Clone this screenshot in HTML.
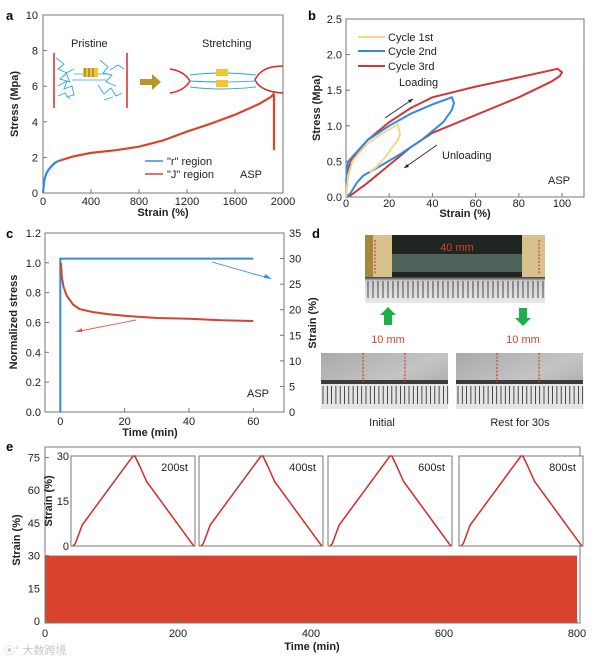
<!DOCTYPE html>
<html><head><meta charset="utf-8">
<style>
html,body{margin:0;padding:0;background:#fff;}
svg{display:block;font-family:"Liberation Sans",Arial,sans-serif;}
.t{font-size:11px;fill:#222;}
.b{font-weight:bold;}
</style></head>
<body>
<svg id="fig" width="600" height="659" viewBox="0 0 600 659" xmlns="http://www.w3.org/2000/svg">
<defs>
<linearGradient id="gray" x1="0" y1="0" x2="1" y2="1"><stop offset="0" stop-color="#a9a9a9"/><stop offset="0.5" stop-color="#c4c4c4"/><stop offset="1" stop-color="#9e9e9e"/></linearGradient>
<linearGradient id="ruler" x1="0" y1="0" x2="0" y2="1"><stop offset="0" stop-color="#3a3a3a"/><stop offset="0.15" stop-color="#cfcfcf"/><stop offset="1" stop-color="#e8e8e8"/></linearGradient>
</defs>
<text x="6" y="20" class="b" font-size="13">a</text>
<text x="308" y="20" class="b" font-size="13">b</text>
<text x="6" y="238" class="b" font-size="13">c</text>
<text x="312" y="238" class="b" font-size="13">d</text>
<text x="6" y="451" class="b" font-size="13">e</text>

<g id="pa"></g>
<g id="pb"></g>
<g id="pc"></g>
<g id="pe"></g>

<g>
<text x="71" y="47" class="t">Pristine</text>
<line x1="54" y1="53" x2="54" y2="108" stroke="#d62b2b" stroke-width="1.5"/>
<line x1="127" y1="53" x2="127" y2="108" stroke="#d62b2b" stroke-width="1.5"/>
<path d="M56 58 l8 6 -6 5 9 4 -7 6 10 3 -4 -9 8 -4 M58 86 l9 -5 -3 8 8 -3 2 9 -8 2 M58 96 l7 -3 5 6 M100 60 l8 7 -5 6 9 2 -6 7 10 4 M98 85 l6 9 7 -6 5 8 6 -3 M104 100 l9 -3 M110 70 l8 -5 6 4" fill="none" stroke="#2fa4e7" stroke-width="0.9"/>
<path d="M74 74 h34 M72 80 h36" stroke="#2fa4e7" stroke-width="0.8"/>
<rect x="83" y="68" width="15" height="9" fill="#f2c631"/>
<path d="M85 68 v9 M89 68 v9 M93 68 v9" stroke="#444" stroke-width="0.7"/>
</g>
<path d="M140 79 h12 v-5 l9 8 -9 8 v-5 h-12z" fill="#b8972a"/>
<g>
<text x="202" y="47" class="t">Stretching</text>
<path d="M170 69 q14 2 20 12 q-6 10 -20 12" fill="none" stroke="#d62b2b" stroke-width="1.5"/>
<path d="M283 66 q-22 0 -28 14 q6 12 28 13" fill="none" stroke="#d62b2b" stroke-width="1.5"/>
<path d="M190 75 q30 -4 66 0 M190 81 q30 2 66 0 M190 87 q30 4 66 0" fill="none" stroke="#2fa4e7" stroke-width="0.9"/>
<rect x="216" y="69" width="12" height="7" fill="#f2c631"/>
<rect x="216" y="80" width="12" height="7" fill="#f2c631"/>
</g>

<g>
<g>
<rect x="365" y="235" width="180" height="68" fill="#d8c18d"/>
<rect x="365" y="235" width="8" height="68" fill="#a6873f"/>
<rect x="392" y="235" width="130" height="42" fill="#1f2520"/>
<rect x="392" y="254" width="130" height="18" fill="#4d6258"/>
<rect x="365" y="277" width="180" height="26" fill="url(#ruler)"/>
<g id="topTicks" stroke="#222" stroke-width="0.8"></g>
<line x1="375" y1="240" x2="375" y2="275" stroke="#d6402a" stroke-dasharray="2,1.5" stroke-width="1.2"/>
<line x1="539" y1="240" x2="539" y2="275" stroke="#d6402a" stroke-dasharray="2,1.5" stroke-width="1.2"/>
<text x="457" y="251" text-anchor="middle" font-size="11" fill="#d6402a">40 mm</text>
</g>
<path d="M384 325 v-10 h-4 l8 -8 8 8 h-4 v10z" fill="#1bb04a"/>
<path d="M519 308 v10 h-4 l8 8 8 -8 h-4 v-10z" fill="#1bb04a"/>
<text x="388" y="343" text-anchor="middle" font-size="11" fill="#d6402a">10 mm</text>
<text x="523" y="343" text-anchor="middle" font-size="11" fill="#d6402a">10 mm</text>
<g>
<rect x="321" y="353" width="127" height="56" fill="url(#gray)"/>
<rect x="321" y="380" width="127" height="4" fill="#3b3b3b"/>
<rect x="321" y="384" width="127" height="25" fill="#e4e4e4"/>
<g id="ticksL" stroke="#222" stroke-width="0.8"></g>
<line x1="363" y1="353" x2="363" y2="382" stroke="#d6402a" stroke-dasharray="2,1.5" stroke-width="1.2"/>
<line x1="405" y1="353" x2="405" y2="382" stroke="#d6402a" stroke-dasharray="2,1.5" stroke-width="1.2"/>
</g>
<g>
<rect x="456" y="353" width="127" height="56" fill="url(#gray)"/>
<rect x="456" y="380" width="127" height="4" fill="#3b3b3b"/>
<rect x="456" y="384" width="127" height="25" fill="#e4e4e4"/>
<g id="ticksR" stroke="#222" stroke-width="0.8"></g>
<line x1="497" y1="353" x2="497" y2="382" stroke="#d6402a" stroke-dasharray="2,1.5" stroke-width="1.2"/>
<line x1="539" y1="353" x2="539" y2="382" stroke="#d6402a" stroke-dasharray="2,1.5" stroke-width="1.2"/>
</g>
<text x="382" y="426" text-anchor="middle" class="t">Initial</text>
<text x="520" y="426" text-anchor="middle" class="t">Rest for 30s</text>
</g>

<text x="4" y="654" font-size="11" fill="#c8c8c8" font-family="'Liberation Sans','Noto Sans CJK SC',sans-serif">⦿° 大数跨境</text>
</svg>
<script>
// panel a
const aRX=[0,10,25,45,70,100,130];
const aRY=[0,0.7,1.05,1.3,1.5,1.7,1.8];
const aJX=[130,250,400,600,800,1000,1200,1400,1600,1800,1900,1920,1925,1925];
const aJY=[1.8,2.05,2.25,2.4,2.6,2.95,3.45,3.9,4.4,5.0,5.4,5.55,5.5,2.4];
const aXTicks=[0,400,800,1200,1600,2000];
const aYTicks=[0,2,4,6,8,10];
// panel b
const b1X=[0,1,3,6,10,15,20,24,25,24,22,18,14,11];
const b1Y=[0,0.3,0.5,0.62,0.75,0.86,0.95,1.02,0.88,0.8,0.72,0.55,0.42,0.35];
const b2X=[0,0.5,1,4,10,20,30,40,49,50,49,45,35,25,15,8,5,2,0];
const b2Y=[0.2,0.4,0.5,0.6,0.8,1.0,1.17,1.3,1.4,1.32,1.22,1.05,0.8,0.6,0.42,0.3,0.2,0.05,0];
const b3X=[0,0.5,1,3,5,10,20,30,40,60,80,98,100,99,95,80,60,40,30,20,10,2,0];
const b3Y=[0,0.3,0.4,0.55,0.62,0.8,1.05,1.25,1.4,1.55,1.68,1.8,1.75,1.7,1.62,1.4,1.15,0.9,0.7,0.45,0.2,0.02,0];
const bXTicks=[0,20,40,60,80,100];
const bYTicks=[0,0.5,1.0,1.5,2.0,2.5];
// panel c
const cStressT=[0.2,0.5,1,2,4,6,10,15,20,30,40,50,60];
const cStressV=[1.0,0.9,0.84,0.78,0.72,0.69,0.67,0.655,0.645,0.63,0.625,0.615,0.61];
const cStrainT=[0,0,60];
const cStrainV=[0,30,30];
const cXTicks=[0,20,40,60];
const cYTicks=[0,0.2,0.4,0.6,0.8,1.0,1.2];
const cY2Ticks=[0,5,10,15,20,25,30,35];
// panel e
const eTimeRange=[0,800];
const eStrainRange=[0,30];
const eXTicks=[0,200,400,600,800];
const eYTicks=[0,15,30,45,60,75];
const insetLabels=["200st","400st","600st","800st"];
const insetT=[0.016,0.035,0.05,0.09,0.5,0.515,0.55,0.61,0.965,0.99];
const insetS=[0,0.8,2.5,7,30,30,27,21.5,1.4,0];
const insetYTicks=[0,15,30];

const NS="http://www.w3.org/2000/svg";
function mk(tag,parent,attrs){const e=document.createElementNS(NS,tag);for(const k in attrs)e.setAttribute(k,attrs[k]);parent.appendChild(e);return e;}
function txt(parent,x,y,s,anchor,cls){const e=mk('text',parent,{x:x,y:y,'text-anchor':anchor||'middle',class:cls||'t'});e.textContent=s;return e;}
function poly(xs,ys,fx,fy){return xs.map((v,i)=>fx(v).toFixed(1)+','+fy(ys[i]).toFixed(1)).join(' ');}
function fmt1(v){return v.toFixed(1);}

(function(){
const g=document.getElementById('pa');
const ax=v=>43+v*0.12, ay=v=>193-v*17.8;
let el=mk('rect',g,{x:43,y:15,width:240,height:178,fill:'none',stroke:'#777','stroke-width':1});


aXTicks.forEach(v=>{mk('line',g,{x1:ax(v),y1:193,x2:ax(v),y2:189,stroke:'#777'});
 el=txt(g,ax(v),205,String(v));
 
 });
aYTicks.forEach(v=>{mk('line',g,{x1:43,y1:ay(v),x2:47,y2:ay(v),stroke:'#777'});
 el=txt(g,38,ay(v)+4,String(v),'end');
 
 });
el=txt(g,163,216,'Strain (%)','middle','t b');


el=mk('text',g,{transform:'translate(18,104) rotate(-90)','text-anchor':'middle',class:'t b'});el.textContent='Stress (Mpa)';


el=mk('polyline',g,{points:poly(aJX,aJY,ax,ay),fill:'none',stroke:'#d8452f','stroke-width':2.2});


el=mk('polyline',g,{points:poly(aRX,aRY,ax,ay),fill:'none',stroke:'#2f8de0','stroke-width':2.2});


mk('line',g,{x1:145,y1:161,x2:163,y2:161,stroke:'#2f8de0','stroke-width':1.5});
el=txt(g,167,165,'"r" region','start');


mk('line',g,{x1:145,y1:174,x2:163,y2:174,stroke:'#d8452f','stroke-width':1.5});
el=txt(g,167,178,'"J" region','start');


el=txt(g,240,178,'ASP','start');


})();

(function(){
const g=document.getElementById('pb');
const bx=v=>346+v*2.16, by=v=>197-v*71.2;
let el=mk('rect',g,{x:346,y:19,width:238,height:178,fill:'none',stroke:'#777','stroke-width':1});


bXTicks.forEach(v=>{mk('line',g,{x1:bx(v),y1:197,x2:bx(v),y2:193,stroke:'#777'});
 el=txt(g,bx(v),207,String(v));
 
 });
bYTicks.forEach(v=>{mk('line',g,{x1:346,y1:by(v),x2:350,y2:by(v),stroke:'#777'});
 el=txt(g,342,by(v)+4,fmt1(v),'end');
 
 });
el=txt(g,465,217,'Strain (%)','middle','t b');


el=mk('text',g,{transform:'translate(320,108) rotate(-90)','text-anchor':'middle',class:'t b'});el.textContent='Stress (Mpa)';


el=mk('polyline',g,{points:poly(b3X,b3Y,bx,by),fill:'none',stroke:'#d0383a','stroke-width':2});


el=mk('polyline',g,{points:poly(b2X,b2Y,bx,by),fill:'none',stroke:'#2f8de0','stroke-width':2});


el=mk('polyline',g,{points:poly(b1X,b1Y,bx,by),fill:'none',stroke:'#f7d58e','stroke-width':2});


[['#f7d58e','Cycle 1st',37],['#2f8de0','Cycle 2nd',51],['#d0383a','Cycle 3rd',66]].forEach((L,i)=>{
 mk('line',g,{x1:358,y1:L[2],x2:385,y2:L[2],stroke:L[0],'stroke-width':2});
 el=txt(g,388,L[2]+4,L[1],'start');
 
 });
el=txt(g,399,86,'Loading','start');


el=txt(g,442,159,'Unloading','start');


mk('line',g,{x1:385,y1:118,x2:413,y2:99,stroke:'#222','stroke-width':0.8});
mk('path',g,{d:'M413 99 l-5 1 2 3z',fill:'#222'});
mk('line',g,{x1:437,y1:145,x2:404,y2:168,stroke:'#222','stroke-width':0.8});
mk('path',g,{d:'M404 168 l5 -1 -2 -3z',fill:'#222'});
el=txt(g,548,184,'ASP','start');


})();

(function(){
const g=document.getElementById('pc');
const cx=t=>60.3+t*3.217, cy=v=>412-v*149.2, cy2=s=>412-s*5.114;
let el=mk('rect',g,{x:45,y:233,width:239,height:179,fill:'none',stroke:'#777','stroke-width':1});


cXTicks.forEach(v=>{mk('line',g,{x1:cx(v),y1:412,x2:cx(v),y2:408,stroke:'#777'});
 el=txt(g,cx(v),425,String(v));
 
 });
cYTicks.forEach(v=>{mk('line',g,{x1:45,y1:cy(v),x2:49,y2:cy(v),stroke:'#777'});
 el=txt(g,41,cy(v)+4,fmt1(v),'end');
 
 });
cY2Ticks.forEach(v=>{mk('line',g,{x1:284,y1:cy2(v),x2:280,y2:cy2(v),stroke:'#777'});
 el=txt(g,289,cy2(v)+4,String(v),'start');
 
 });
el=txt(g,150,436,'Time (min)','middle','t b');


el=mk('text',g,{transform:'translate(17,322) rotate(-90)','text-anchor':'middle',class:'t b'});el.textContent='Normalized stress';


el=mk('text',g,{transform:'translate(316,323) rotate(-90)','text-anchor':'middle',class:'t b'});el.textContent='Strain (%)';


el=mk('polyline',g,{points:poly(cStrainT,cStrainV,cx,cy2),fill:'none',stroke:'#2f8de0','stroke-width':2});


el=mk('polyline',g,{points:poly(cStressT,cStressV,cx,cy),fill:'none',stroke:'#d0452f','stroke-width':2});


mk('line',g,{x1:212,y1:262,x2:268,y2:278,stroke:'#2f8de0','stroke-width':0.9});
mk('path',g,{d:'M272 279 l-7 -5 -1 4z',fill:'#2f8de0'});
mk('line',g,{x1:136,y1:320,x2:80,y2:331,stroke:'#e0604a','stroke-width':0.9});
mk('path',g,{d:'M75 332 l7 -4 0 4z',fill:'#e0604a'});
el=txt(g,247,397,'ASP','start');


})();

(function(){
[['topTicks',368,545,281,298,5],['ticksL',323,448,386,404,4.3],['ticksR',458,583,386,404,4.3]].forEach(R=>{
 const g=document.getElementById(R[0]);
 for(let x=R[1];x<R[2];x+=R[5]) mk('line',g,{x1:x,y1:R[3],x2:x,y2:R[4]});
});
})();

(function(){
const g=document.getElementById('pe');
const ex=t=>45+t*0.665, ey=v=>621-v*2.18;
let el=mk('rect',g,{x:ex(eTimeRange[0]),y:ey(eStrainRange[1]),width:ex(eTimeRange[1])-ex(eTimeRange[0]),height:ey(eStrainRange[0])-ey(eStrainRange[1])+2,fill:'#d9432b'});


el=mk('rect',g,{x:45,y:447,width:535,height:176,fill:'none',stroke:'#777','stroke-width':1});


eXTicks.forEach(v=>{mk('line',g,{x1:ex(v),y1:623,x2:ex(v),y2:619,stroke:'#777'});
 el=txt(g,ex(v),637,String(v));
 
 });
eYTicks.forEach(v=>{mk('line',g,{x1:45,y1:ey(v),x2:49,y2:ey(v),stroke:'#777'});
 el=txt(g,40,ey(v)+4,String(v),'end');
 
 });
el=txt(g,312,650,'Time (min)','middle','t b');


el=mk('text',g,{transform:'translate(20,540) rotate(-90)','text-anchor':'middle',class:'t b'});el.textContent='Strain (%)';


const ix=[71,199,328,459];
insetLabels.forEach((lab,k)=>{
 const x0=ix[k], w=124, y0=456, h=90;
 const fx=f=>x0+f*w, fy=s=>y0+h-s/30*h;
 el=mk('rect',g,{x:x0,y:y0,width:w,height:h,fill:'#fff',stroke:'#777','stroke-width':1});
 
 
 el=mk('polyline',g,{points:poly(insetT,insetS,fx,fy),fill:'none',stroke:'#d62a2a','stroke-width':1.5});
 
 
 el=txt(g,x0+w-7,471,lab,'end');
 el.setAttribute('font-size','10');
 
 
 if(k===0){
  insetYTicks.forEach(v=>{
   el=txt(g,x0-2,fy(v)+4,String(v),'end');
   el.setAttribute('font-size','10');
   
   });
  el=mk('text',g,{transform:'translate('+(x0-19)+',501) rotate(-90)','text-anchor':'middle',class:'t b','font-size':'10'});el.textContent='Strain (%)';
  
  
 }
});
})();
</script>
</body></html>
